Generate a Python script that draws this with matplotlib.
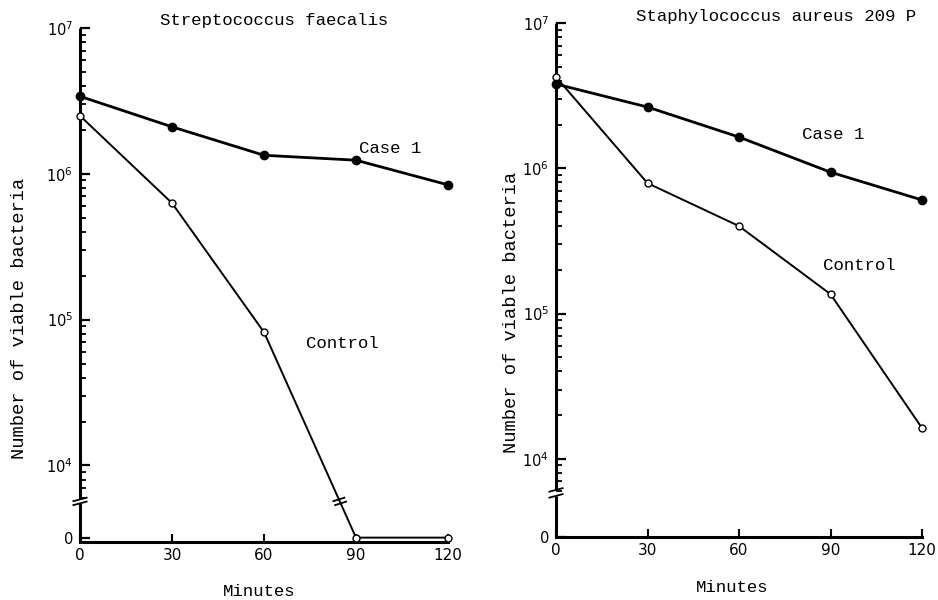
import matplotlib
matplotlib.use("Agg")
import matplotlib.pyplot as plt
import numpy as np
from matplotlib.ticker import FixedLocator, NullFormatter

# data (viable counts, 0 = none)
minutes = [0, 30, 60, 90, 120]
strep_case1 = [3.4e6, 2.1e6, 1.34e6, 1.24e6, 8.4e5]
strep_control = [2.5e6, 6.3e5, 8.2e4, 0, 0]
staph_case1 = [3.8e6, 2.64e6, 1.64e6, 9.4e5, 6.05e5]
staph_control = [4.25e6, 7.9e5, 4.0e5, 1.36e5, 1.63e4]

titles = ["Streptococcus faecalis", "Staphylococcus aureus 209 P"]
xticks = [0, 30, 60, 90, 120]
ymajor = [0, 1e4, 1e5, 1e6, 1e7]
ymajor_labels = ["0", r"$10^{4}$", r"$10^{5}$", r"$10^{6}$", r"$10^{7}$"]
yminor = [6e3, 7e3, 8e3, 9e3] + [m * 10**k for k in (4, 5, 6) for m in range(2, 10)]

mono = ["Liberation Mono", "DejaVu Sans Mono"]


def broken_log(z0):
    # log10 above the break, zero parked just under it
    def fwd(v):
        v = np.asarray(v, dtype=float)
        with np.errstate(divide="ignore", invalid="ignore"):
            return np.where(v > 0, np.log10(np.maximum(v, 1e-300)), z0 + 0.03 * v)

    def inv(y):
        y = np.asarray(y, dtype=float)
        return np.where(y >= z0, 10**y, (y - z0) / 0.03)
    return fwd, inv


def panel(ax, case1, control, z0, ybottom, brk, labels):
    fwd, inv = broken_log(z0)
    ax.set_yscale("function", functions=(fwd, inv))
    ax.set_ylim(ybottom, 1e7)
    ax.set_xlim(0, 120)

    ax.plot(minutes, control, color="black", lw=1.4, marker="o", ms=5,
            mfc="white", mec="black", mew=1, clip_on=False, zorder=4)
    ax.plot(minutes, case1, color="black", lw=2.0, marker="o", ms=6,
            mfc="black", mec="black", clip_on=False, zorder=5)

    # y axis drawn by hand so it can carry the break
    ax.spines["left"].set_visible(False)
    ax.spines["top"].set_visible(False)
    ax.spines["right"].set_visible(False)
    ax.spines["bottom"].set_linewidth(2.2)
    yt = ax.get_yaxis_transform()
    lo, hi = brk
    ax.plot([0, 0], [ybottom, 10**lo], transform=yt, color="black", lw=2.2,
            clip_on=False, solid_capstyle="butt")
    ax.plot([0, 0], [10**hi, 1e7], transform=yt, color="black", lw=2.2,
            clip_on=False, solid_capstyle="butt")
    for lvl in brk:
        ax.plot([-0.018, 0.018], [10**(lvl - 0.012), 10**(lvl + 0.012)],
                transform=yt, color="black", lw=1.3, clip_on=False)

    # same break drawn across a line that drops to zero
    ty = fwd(control)
    for i in range(len(minutes) - 1):
        if control[i] > 0 and control[i + 1] == 0:
            for lvl in brk:
                t = np.interp(lvl, [ty[i + 1], ty[i]], [minutes[i + 1], minutes[i]])
                ax.plot([t - 1.8, t + 1.8], [10**(lvl - 0.012), 10**(lvl + 0.012)],
                        color="black", lw=1.3, clip_on=False, zorder=6)

    ax.yaxis.set_major_locator(FixedLocator(ymajor))
    ax.set_yticklabels(ymajor_labels)
    ax.yaxis.set_minor_locator(FixedLocator(yminor))
    ax.yaxis.set_minor_formatter(NullFormatter())
    ax.set_xticks(xticks)
    ax.set_xticklabels([str(x) for x in xticks])
    ax.tick_params(axis="y", which="major", direction="in", length=7, width=1.6,
                   labelsize=10.5, pad=5)
    ax.tick_params(axis="y", which="minor", direction="in", length=4, width=1.3)
    ax.tick_params(axis="x", direction="in", length=6, width=1.5, labelsize=11, pad=4)

    for txt, (x, y) in labels.items():
        ax.text(x, y, txt, ha="center", va="center", fontsize=12.5, family=mono)


fig = plt.figure(figsize=(9.38, 6), dpi=100)
axL = fig.add_axes([80 / 938, 1 - 542 / 600, 368 / 938, 514 / 600])
axR = fig.add_axes([556 / 938, 1 - 537 / 600, 366 / 938, 514 / 600])

panel(axL, strep_case1, strep_control, 3.505, -1, (3.74, 3.767),
      {"Case 1": (101, 1.5e6), "Control": (85.5, 6.9e4)})
panel(axR, staph_case1, staph_control, 3.462, 0, (3.745, 3.786),
      {"Case 1": (91, 1.72e6), "Control": (99.5, 2.13e5)})

fig.text(274 / 938, 1 - 21 / 600, titles[0], ha="center", va="center",
         fontsize=12.5, family=mono)
fig.text(776 / 938, 1 - 17 / 600, titles[1], ha="center", va="center",
         fontsize=12.5, family=mono)
for x, y in [(20, 318), (512, 312)]:
    fig.text(x / 938, 1 - y / 600, "Number of viable bacteria", rotation=90,
             ha="center", va="center", fontsize=13.5, family=mono)
for x, y in [(259, 592), (732, 587)]:
    fig.text(x / 938, 1 - y / 600, "Minutes", ha="center", va="center",
             fontsize=12.5, family=mono)

fig.savefig("out.png", dpi=100)
